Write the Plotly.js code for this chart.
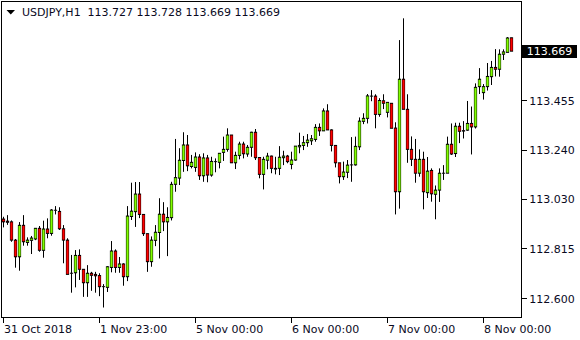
<!DOCTYPE html>
<html><head><meta charset="utf-8">
<script src="https://cdn.plot.ly/plotly-3.0.1.min.js"></script>
<style>html,body{margin:0;padding:0;background:#fff;}#chart{width:580px;height:340px;}</style>
</head><body><div id="chart"></div>
<script>
const symbol = 'USDJPY,H1';
const openP = [
112.944,112.935,112.932,112.853,112.781,112.917,112.843,112.852,112.858,112.904,
112.809,112.901,112.882,112.982,112.977,112.902,112.853,112.710,112.712,112.787,
112.727,112.669,112.710,112.705,112.700,112.652,112.649,112.735,112.806,112.735,
112.750,112.695,112.955,112.976,113.052,112.964,112.881,112.760,112.852,112.886,
112.965,112.932,112.950,113.094,113.121,113.197,113.264,113.171,113.167,113.212,
113.131,113.208,113.134,113.192,113.189,113.232,113.245,113.307,113.187,113.219,
113.268,113.225,113.254,113.319,113.210,113.137,113.198,113.216,113.163,113.163,
113.209,113.216,113.180,113.199,113.256,113.262,113.274,113.282,113.288,113.340,
113.325,113.411,113.329,113.262,113.187,113.127,113.146,113.178,113.178,113.256,
113.366,113.379,113.475,113.475,113.396,113.455,113.405,113.444,113.337,113.062,
113.548,113.418,113.245,113.202,113.142,113.202,113.058,113.154,113.051,113.069,
113.142,113.142,113.267,113.227,113.345,113.324,113.328,113.357,113.342,113.516,
113.490,113.516,113.559,113.599,113.591,113.656,113.664,113.727];
const highP = [
112.954,112.961,112.938,112.858,112.931,112.961,112.865,112.871,112.905,112.914,
112.937,112.947,112.987,113.000,112.995,112.918,112.861,112.789,112.810,112.813,
112.728,112.745,112.716,112.716,112.710,112.663,112.741,112.849,112.813,112.780,
112.753,113.000,113.101,113.104,113.104,112.964,112.882,112.869,112.918,113.034,
113.017,112.995,113.105,113.290,113.250,113.319,113.307,113.221,113.232,113.224,
113.228,113.221,113.213,113.206,113.228,113.300,113.336,113.307,113.235,113.278,
113.278,113.264,113.321,113.333,113.212,113.213,113.230,113.218,113.213,113.259,
113.239,113.221,113.235,113.259,113.317,113.303,113.311,113.307,113.354,113.357,
113.422,113.440,113.332,113.264,113.187,113.192,113.199,113.298,113.300,113.383,
113.401,113.484,113.501,113.483,113.466,113.483,113.448,113.444,113.362,113.717,
113.811,113.483,113.301,113.290,113.245,113.235,113.212,113.163,113.089,113.163,
113.177,113.300,113.357,113.360,113.360,113.367,113.454,113.430,113.530,113.596,
113.527,113.618,113.627,113.678,113.677,113.677,113.730,113.728];
const lowP = [
112.908,112.919,112.846,112.734,112.721,112.829,112.829,112.793,112.853,112.803,
112.777,112.861,112.872,112.964,112.897,112.753,112.705,112.626,112.649,112.681,
112.608,112.608,112.634,112.626,112.611,112.562,112.629,112.714,112.712,112.712,
112.656,112.676,112.940,112.910,112.948,112.871,112.716,112.738,112.827,112.774,
112.892,112.784,112.938,113.062,113.091,113.148,113.151,113.163,113.148,113.113,
113.105,113.103,113.127,113.146,113.163,113.195,113.235,113.187,113.160,113.202,
113.206,113.213,113.213,113.199,113.120,113.072,113.159,113.142,113.137,113.134,
113.177,113.185,113.159,113.196,113.228,113.242,113.256,113.264,113.278,113.303,
113.325,113.329,113.236,113.167,113.098,113.113,113.121,113.105,113.175,113.242,
113.354,113.357,113.453,113.336,113.386,113.419,113.383,113.336,112.964,112.989,
113.418,113.187,113.173,113.101,113.127,112.986,113.035,113.019,112.943,113.018,
113.113,113.142,113.221,113.212,113.272,113.292,113.325,113.223,113.335,113.484,
113.460,113.499,113.523,113.560,113.559,113.631,113.664,113.669];
const closeP = [
112.932,112.930,112.853,112.781,112.917,112.846,112.853,112.862,112.904,112.809,
112.901,112.882,112.983,112.982,112.902,112.853,112.705,112.710,112.787,112.727,
112.669,112.710,112.701,112.699,112.652,112.652,112.738,112.806,112.735,112.750,
112.695,112.957,112.978,113.052,112.964,112.881,112.760,112.853,112.887,112.965,
112.932,112.951,113.094,113.123,113.198,113.264,113.174,113.189,113.212,113.131,
113.208,113.134,113.193,113.192,113.228,113.245,113.307,113.187,113.219,113.268,
113.226,113.254,113.319,113.209,113.137,113.202,113.216,113.163,113.160,113.211,
113.216,113.192,113.199,113.259,113.262,113.274,113.285,113.291,113.340,113.325,
113.411,113.329,113.262,113.187,113.127,113.147,113.177,113.178,113.258,113.367,
113.379,113.476,113.475,113.396,113.456,113.444,113.448,113.336,113.062,113.548,
113.418,113.245,113.202,113.142,113.202,113.062,113.151,113.053,113.069,113.142,
113.142,113.267,113.225,113.345,113.323,113.326,113.357,113.342,113.513,113.548,
113.516,113.560,113.599,113.591,113.656,113.666,113.726,113.669];
const xTickBars = [0, 24, 48, 72, 96, 120];
const xTickLabels = ['31 Oct 2018','1 Nov 23:00','5 Nov 00:00','6 Nov 00:00','7 Nov 00:00','8 Nov 00:00'];
const yTickVals = [113.455, 113.240, 113.030, 112.815, 112.600];
const yTickLabels = ['113.455','113.240','113.030','112.815','112.600'];

const bars = openP.map((_, i) => i);
const last = openP.length - 1;
const FONT = 'DejaVu Sans';
const TXT = '#0a0a1e';
const UP = '#80FF00', DOWN = '#FF0000';
const W = 580, H = 340, ML = 2, MR = 59, MT = 2, MB = 23;
const plotW = W - ML - MR, plotH = H - MT - MB;
const yRange = [112.521, 113.8815];
const onePx = (yRange[1] - yRange[0]) / plotH;   // price span of one screen pixel (outline thickness)
const px = x => (x - ML) / plotW;      // pixel -> paper
const py = y => (H - MB - y) / plotH;

const bodyLo = bars.map(i => Math.min(openP[i], closeP[i]));
const bodyHi = bars.map(i => Math.max(openP[i], closeP[i]));
const wx = [], wy = [];
bars.forEach(i => {
  wx.push(i, i, null, i, i, null);
  wy.push(lowP[i], bodyLo[i], null, bodyHi[i], highP[i], null);
});
const wicks = {type: 'scatter', mode: 'lines', x: wx, y: wy, line: {color: '#000', width: 1},
               hoverinfo: 'skip', connectgaps: false};
const outline = {
  type: 'bar', x: bars,
  base: bars.map(i => bodyLo[i] - onePx / 2),
  y: bars.map(i => bodyHi[i] - bodyLo[i] + onePx),
  width: 0.8, marker: {color: '#000', line: {width: 0}}, hoverinfo: 'skip'
};
const fill = {
  type: 'bar', x: bars,
  base: bars.map(i => bodyLo[i] + onePx / 2),
  y: bars.map(i => Math.max(bodyHi[i] - bodyLo[i] - onePx, 0)),
  width: 0.55,
  marker: {color: bars.map(i => closeP[i] >= openP[i] ? UP : DOWN), line: {width: 0}},
  hoverinfo: 'skip'
};

const f3 = v => v.toFixed(3);
const annotations = [
  {xref: 'paper', yref: 'paper', x: px(20), y: py(13), xanchor: 'left', yanchor: 'middle', showarrow: false,
   text: symbol + '\u00a0\u00a0' + [openP[last], highP[last], lowP[last], closeP[last]].map(f3).join(' '),
   font: {family: FONT, size: 11, color: TXT}},
  {xref: 'paper', yref: 'y', x: 1, xshift: 1, y: closeP[last], xanchor: 'left', yanchor: 'middle', showarrow: false,
   text: f3(closeP[last]), bgcolor: '#000', borderpad: 0, borderwidth: 0, width: 55, height: 13,
   font: {family: FONT, size: 11, color: '#fff'}}
];
xTickBars.forEach((b, k) => annotations.push({
  xref: 'x', yref: 'paper', x: b, xshift: -2, y: py(329), xanchor: 'left', yanchor: 'middle', showarrow: false,
  text: xTickLabels[k], font: {family: FONT, size: 11, color: TXT}
}));

const layout = {
  width: W, height: H, margin: {l: ML, r: MR, t: MT, b: MB, pad: 0},
  paper_bgcolor: '#fff', plot_bgcolor: '#fff', showlegend: false, barmode: 'overlay',
  xaxis: {range: [-0.375, -0.375 + plotW / 4], showline: true, linecolor: '#000', linewidth: 1, mirror: true,
          ticks: 'outside', ticklen: 5, tickcolor: '#000', tickvals: xTickBars, showticklabels: false,
          showgrid: false, zeroline: false, fixedrange: true},
  yaxis: {range: yRange, side: 'right', showline: true, linecolor: '#000', linewidth: 1, mirror: true,
          ticks: 'outside', ticklen: 5, tickcolor: '#000',
          tickvals: [closeP[last]].concat(yTickVals), ticktext: [''].concat(yTickLabels),
          tickfont: {family: FONT, size: 11, color: TXT}, showgrid: false, zeroline: false, fixedrange: true},
  shapes: [{type: 'path', xref: 'paper', yref: 'paper', line: {width: 0}, fillcolor: '#000',
            path: 'M ' + px(6.5) + ' ' + py(10) + ' L ' + px(15) + ' ' + py(10) + ' L ' + px(10.75) + ' ' + py(14.5) + ' Z'}],
  annotations: annotations
};

Plotly.newPlot('chart', [wicks, outline, fill], layout, {displayModeBar: false, staticPlot: true});
</script></body></html>
